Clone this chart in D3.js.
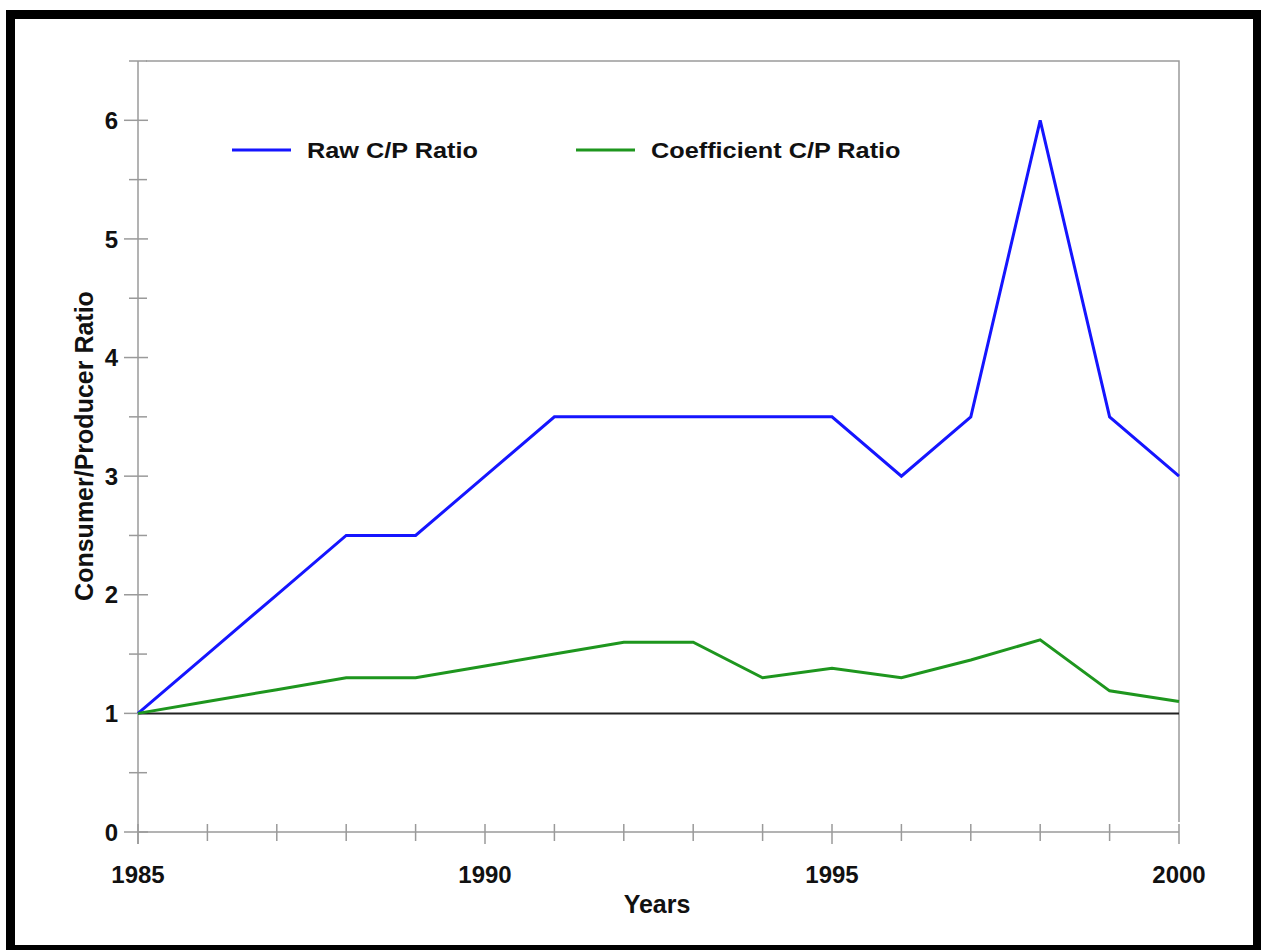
<!DOCTYPE html>
<html>
<head>
<meta charset="utf-8">
<script src="https://cdn.jsdelivr.net/npm/d3@7"></script>
<style>
  body { margin: 0; background: #fff; }
  text { font-family: "Liberation Sans", Arial, sans-serif; font-weight: bold; fill: #111; }
</style>
</head>
<body>
<div id="chart"></div>
<script>
// Data
const years = [1985, 1986, 1987, 1988, 1989, 1990, 1991, 1992, 1993, 1994, 1995, 1996, 1997, 1998, 1999, 2000];
const rawRatio = [1.0, 1.5, 2.0, 2.5, 2.5, 3.0, 3.5, 3.5, 3.5, 3.5, 3.5, 3.0, 3.5, 6.0, 3.5, 3.0];
const coefRatio = [1.0, 1.1, 1.2, 1.3, 1.3, 1.4, 1.5, 1.6, 1.6, 1.3, 1.38, 1.3, 1.45, 1.62, 1.19, 1.1];
const seriesNames = ["Raw C/P Ratio", "Coefficient C/P Ratio"];
const seriesColors = ["#1515ff", "#1e961e"];
const xTickLabels = [1985, 1990, 1995, 2000];
const yTickLabels = [0, 1, 2, 3, 4, 5, 6];

// SVG parameters
const width = 1261,
      height = 950;
const margin = {left: 138, right: 82, top: 61, bottom: 118};

const svg = d3.select("#chart")
  .append("svg")
    .attr("width", width)
    .attr("height", height);

// Outer black frame
svg.append("rect")
  .attr("x", 10.5)
  .attr("y", 14.5)
  .attr("width", 1247)
  .attr("height", 935)
  .attr("fill", "none")
  .attr("stroke", "#000")
  .attr("stroke-width", 9);

// Scales
const x = d3.scaleLinear()
  .domain([1985, 2000])
  .range([margin.left, width - margin.right]);

const y = d3.scaleLinear()
  .domain([0, 6.5])
  .range([height - margin.bottom, margin.top]);

const axisColor = "#9a9a9a";

// Plot frame (top and right)
svg.append("path")
  .attr("d", `M${x(1985) + 8},${y(6.5)}H${x(2000)}V${y(0) - 10}`)
  .attr("fill", "none")
  .attr("stroke", axisColor)
  .attr("stroke-width", 1.5);

// Y axis line and ticks
svg.append("line")
  .attr("x1", x(1985)).attr("x2", x(1985))
  .attr("y1", y(6.5)).attr("y2", y(0) + 12)
  .attr("stroke", axisColor)
  .attr("stroke-width", 1.5);

const yMinor = d3.range(0.5, 7, 1);
svg.append("g")
  .selectAll("line")
  .data(yMinor)
  .join("line")
    .attr("x1", x(1985) - 9).attr("x2", x(1985) + 9)
    .attr("y1", d => y(d)).attr("y2", d => y(d))
    .attr("stroke", axisColor)
    .attr("stroke-width", 1.5);

svg.append("g")
  .selectAll("line")
  .data(yTickLabels)
  .join("line")
    .attr("x1", x(1985) - 14).attr("x2", x(1985) + 10)
    .attr("y1", d => y(d)).attr("y2", d => y(d))
    .attr("stroke", axisColor)
    .attr("stroke-width", 1.5);

svg.append("g")
  .selectAll("text")
  .data(yTickLabels)
  .join("text")
    .attr("x", 118)
    .attr("y", d => y(d))
    .attr("dy", "0.36em")
    .attr("text-anchor", "end")
    .style("font-size", "24px")
    .text(d => d);

// X axis line and ticks
svg.append("line")
  .attr("x1", x(1985)).attr("x2", x(2000))
  .attr("y1", y(0)).attr("y2", y(0))
  .attr("stroke", axisColor)
  .attr("stroke-width", 1.5);

svg.append("g")
  .selectAll("line")
  .data(years)
  .join("line")
    .attr("x1", d => x(d)).attr("x2", d => x(d))
    .attr("y1", y(0) - 8)
    .attr("y2", d => xTickLabels.includes(d) ? y(0) + 12 : y(0) + 9)
    .attr("stroke", axisColor)
    .attr("stroke-width", 1.5);

svg.append("g")
  .selectAll("text")
  .data(xTickLabels)
  .join("text")
    .attr("x", d => x(d))
    .attr("y", 883)
    .attr("text-anchor", "middle")
    .style("font-size", "24px")
    .text(d => d);

// Axis titles
svg.append("text")
  .attr("x", 657)
  .attr("y", 913)
  .attr("text-anchor", "middle")
  .style("font-size", "25px")
  .text("Years");

svg.append("text")
  .attr("transform", "translate(93,446) rotate(-90)")
  .attr("text-anchor", "middle")
  .style("font-size", "25px")
  .text("Consumer/Producer Ratio");

// Reference line at ratio 1
svg.append("line")
  .attr("x1", x(1985)).attr("x2", x(2000))
  .attr("y1", y(1)).attr("y2", y(1))
  .attr("stroke", "#222")
  .attr("stroke-width", 2);

// Series lines
const line = d3.line()
  .x((d, i) => x(years[i]))
  .y(d => y(d));

[rawRatio, coefRatio].forEach(function(values, k) {
  svg.append("path")
    .datum(values)
    .attr("d", line)
    .attr("fill", "none")
    .attr("stroke", seriesColors[k])
    .attr("stroke-width", 3)
    .attr("stroke-linejoin", "miter");
});

// Legend
const legendX = [232, 576];
const legend = svg.append("g")
  .selectAll("g")
  .data(seriesNames)
  .join("g")
    .attr("transform", (d, i) => `translate(${legendX[i]},150)`);

legend.append("line")
  .attr("x1", 0).attr("x2", 59)
  .attr("y1", 0).attr("y2", 0)
  .attr("stroke", (d, i) => seriesColors[i])
  .attr("stroke-width", 3);

legend.append("text")
  .attr("x", 75)
  .attr("y", 8)
  .style("font-size", "22px")
  .attr("transform", "translate(75,0) scale(1.15,1) translate(-75,0)")
  .text(d => d);
</script>
</body>
</html>
